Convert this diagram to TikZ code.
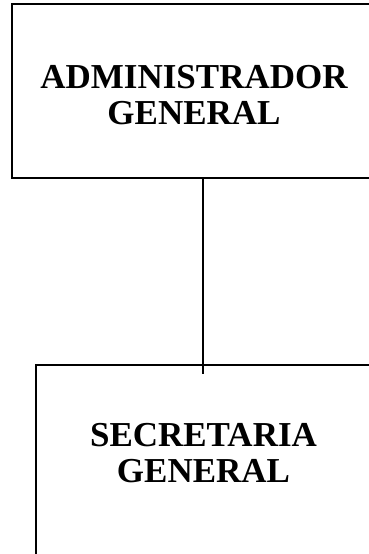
\documentclass[tikz,border=0pt]{standalone}
\usepackage{fontspec}
\setmainfont{Liberation Serif}
\usepackage{tikz}
\usetikzlibrary{positioning}
\tikzstyle{unit} = [draw=black, line width=2pt, rectangle, inner sep=0pt]
\tikzstyle{title} = [align=center, font=\fontsize{35}{36}\selectfont\bfseries, inner sep=0pt]
\tikzstyle{link} = [line width=1.7pt, -]

\begin{document}
\begin{tikzpicture}[x=1pt, y=1pt]
                    \useasboundingbox (0, 0) rectangle (369, -554);
                    \clip (0, 0) rectangle (369, -554);
                    \node [unit, minimum width=364pt, minimum height=174pt] (admin) at (194, -91) {};
                    \node [unit, minimum width=335pt, minimum height=240pt] (secre) at (203.5, -485) {};
                    \node [title] (admintext) at (194, -95.5) {ADMINISTRADOR\\GENERAL};
                    \node [title] (secretext) at (203.5, -453) {SECRETARIA\\GENERAL};
                    \coordinate (drop) at (203.3, -374);
                    \draw [link] (admin.south -| drop) -- (drop);
                \end{tikzpicture}
\end{document}
